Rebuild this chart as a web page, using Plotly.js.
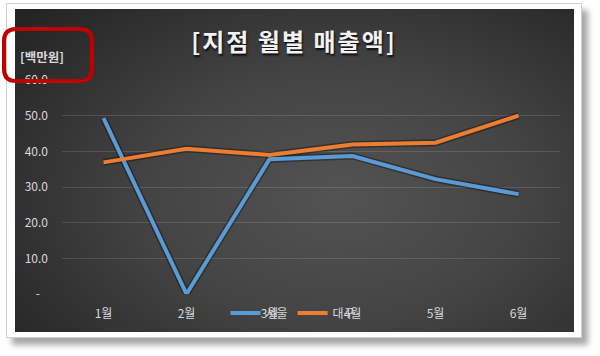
<!DOCTYPE html>
<html>
<head>
<meta charset="utf-8">
<script src="https://cdn.plot.ly/plotly-3.0.1.min.js"></script>
<style>
  html, body { margin:0; padding:0; background:#ffffff; width:600px; height:356px; overflow:hidden; }
  #frame { position:absolute; left:6px; top:3px; width:576px; height:335px; background:#ffffff;
           border:1px solid #cfcfcf; box-shadow:6px 7px 6px rgba(0,0,0,0.35); box-sizing:border-box; }
  #dark { position:absolute; left:15px; top:9px; width:559px; height:323px;
          background: radial-gradient(ellipse 75% 85% at 58% 58%, #535353 0%, #444444 45%, #2f2f2f 80%, #242424 100%); }
  #chart { position:absolute; left:0; top:0; width:600px; height:356px; }
  #chart .gtitle { letter-spacing: 2px; }
</style>
</head>
<body>
<div id="frame"></div>
<div id="dark"></div>
<div id="chart"></div>
<script>
const months = ['1월','2월','3월','4월','5월','6월'];
const seoul = [49.3, 0, 37.8, 38.7, 32.2, 28.0];
const daegu = [36.9, 40.7, 39.0, 41.9, 42.4, 50.0];
const yTickVals = [0, 10, 20, 30, 40, 50, 60];
const yTickText = ['-\u00a0\u00a0\u00a0', '10.0', '20.0', '30.0', '40.0', '50.0', '60.0'];

// plot area in pixels
const PL = 62, PR = 560, PT = 80, PB = 294;
const px = x => (x - PL) / (PR - PL);
const py = y => (PB - y) / (PB - PT);

function roundRect(x0, y0, x1, y1, r) {
  const rx = r / (PR - PL), ry = r / (PB - PT);
  const X0 = px(x0), X1 = px(x1), Y0 = py(y1), Y1 = py(y0); // Y1 is top
  return `M ${X0+rx},${Y1} L ${X1-rx},${Y1} Q ${X1},${Y1} ${X1},${Y1-ry} ` +
         `L ${X1},${Y0+ry} Q ${X1},${Y0} ${X1-rx},${Y0} L ${X0+rx},${Y0} ` +
         `Q ${X0},${Y0} ${X0},${Y0+ry} L ${X0},${Y1-ry} Q ${X0},${Y1} ${X0+rx},${Y1} Z`;
}

const FONT = '"Noto Sans CJK KR", "Noto Sans", sans-serif';
const shadowOpts = {mode:'lines', hoverinfo:'skip', showlegend:false,
  line:{color:'rgba(0,0,0,0.35)', width:7}};

const data = [
  Object.assign({x: months, y: seoul}, shadowOpts),
  Object.assign({x: months, y: daegu}, shadowOpts),
  {x: months, y: seoul, name: '서울', mode: 'lines', line: {color: '#5b9bd5', width: 4}},
  {x: months, y: daegu, name: '대구', mode: 'lines', line: {color: '#ed7d31', width: 4}}
];

const layout = {
  width: 600, height: 356,
  margin: {l: PL, r: 600 - PR, t: PT, b: 356 - PB},
  paper_bgcolor: 'rgba(0,0,0,0)',
  plot_bgcolor: 'rgba(0,0,0,0)',
  font: {family: FONT, color: '#d9d9d9', size: 12},
  title: {text: '<b>[지점 월별 매출액]</b>', x: px(294), xanchor: 'center', xref: 'paper',
          y: 1 - 43/356, yanchor: 'middle',
          font: {family: FONT, size: 24, color: '#f2f2f2', shadow: '1px 2px 2px rgba(0,0,0,0.85)'}},
  xaxis: {type: 'category', range: [-0.5, 5.5], showgrid: false, zeroline: false,
          showline: false, ticks: '', ticklabelstandoff: 11,
          tickfont: {size: 12, color: '#d9d9d9'}, fixedrange: true},
  yaxis: {range: [0, 60], tickvals: yTickVals, ticktext: yTickText, showgrid: true,
          gridcolor: 'rgba(255,255,255,0.13)', gridwidth: 1, zeroline: false, showline: false,
          ticks: '', ticklabelstandoff: 13, tickfont: {size: 12, color: '#d9d9d9'}, fixedrange: true},
  showlegend: true,
  legend: {orientation: 'h', x: px(293), xanchor: 'center', y: py(313), yanchor: 'middle',
           bgcolor: 'rgba(0,0,0,0)', font: {size: 12, color: '#d9d9d9'}, itemwidth: 30,
           tracegroupgap: 0},
  annotations: [
    {text: '<b>[백만원]</b>', xref: 'paper', yref: 'paper', x: px(18), y: py(56),
     xanchor: 'left', yanchor: 'middle', showarrow: false,
     font: {family: FONT, size: 12.5, color: '#d9d9d9'}}
  ],
  shapes: [
    {type: 'path', xref: 'paper', yref: 'paper', path: roundRect(4, 29, 92, 81, 12),
     line: {color: '#c00000', width: 4}, fillcolor: 'rgba(0,0,0,0)', layer: 'above'}
  ]
};

Plotly.newPlot('chart', data, layout, {displayModeBar: false, staticPlot: true});
</script>
</body>
</html>
